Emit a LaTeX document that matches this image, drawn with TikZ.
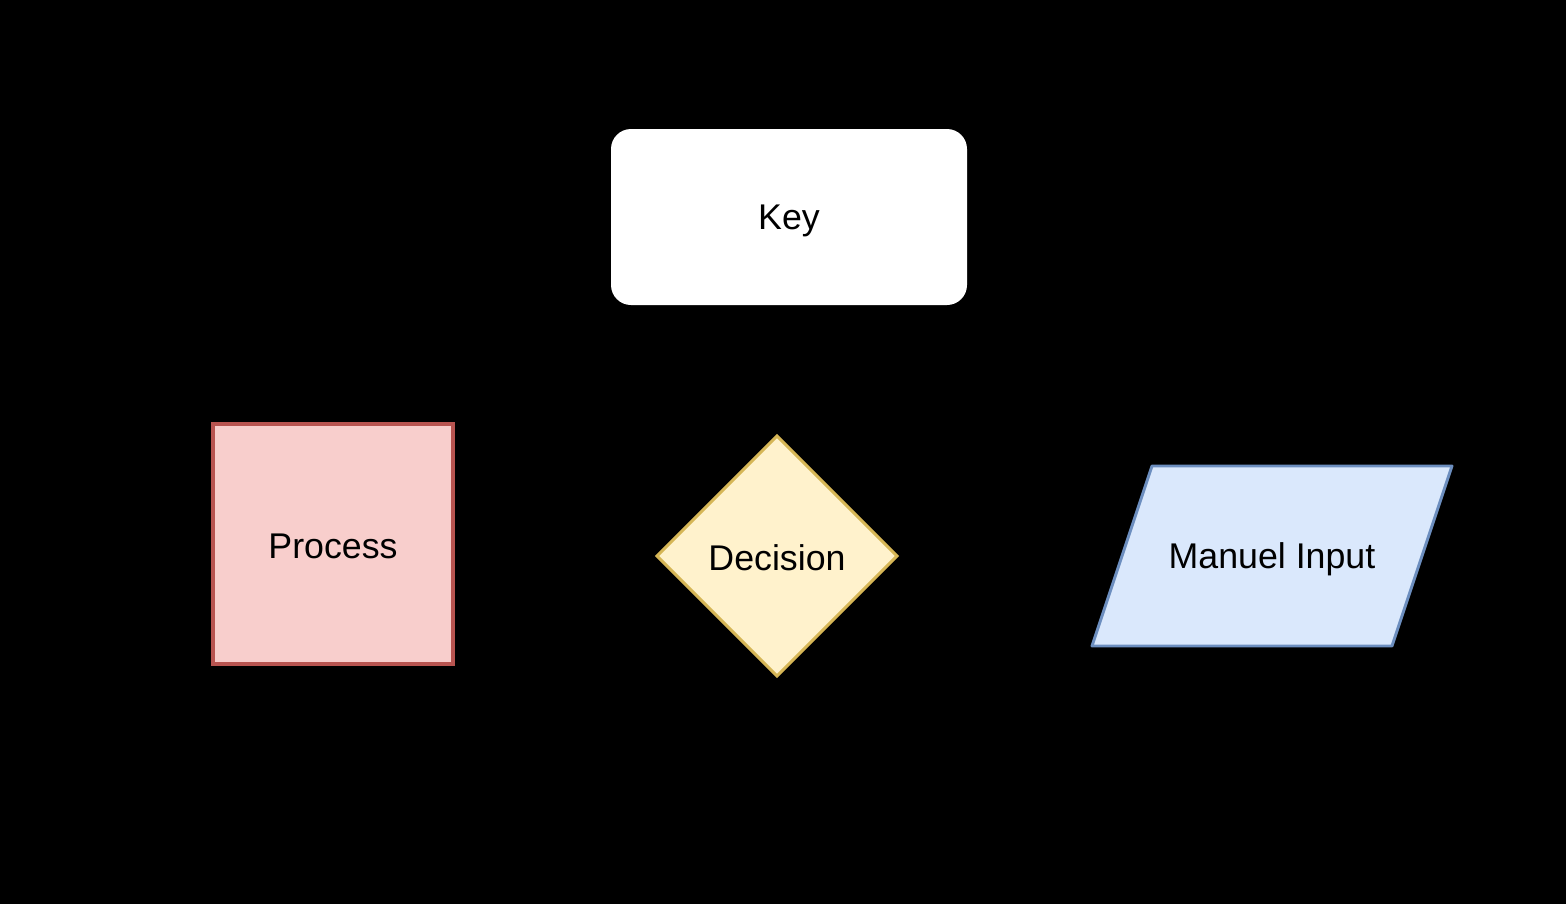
\documentclass[tikz,border=0pt]{standalone}
\usepackage{fontspec}
\setmainfont{Liberation Sans}
\usetikzlibrary{shapes.geometric}
\definecolor{procfill}{HTML}{F8CECC}
\definecolor{procline}{HTML}{B85450}
\definecolor{decfill}{HTML}{FFF2CC}
\definecolor{decline}{HTML}{D6B656}
\definecolor{inpfill}{HTML}{DAE8FC}
\definecolor{inpline}{HTML}{6C8EBF}
\tikzset{
  lbl/.style={font=\fontsize{26.8}{32}\selectfont, text=black},
  keybox/.style={fill=white, draw=none, rounded corners=15pt},
  procbox/.style={fill=procfill, draw=procline, line width=2.4pt},
  decbox/.style={fill=decfill, draw=decline, line width=2.2pt},
  inpbox/.style={fill=inpfill, draw=inpline, line width=2.2pt, line join=round},
}
\begin{document}
\begin{tikzpicture}[x=0.75pt,y=-0.75pt]
\fill[black] (0,0) rectangle (1566,904);
\useasboundingbox (0,0) rectangle (1566,904);
% Key
\fill[keybox] (611,129) rectangle (967,305);
\node[lbl] (key) at (789,221) {Key};
% Process
\draw[procbox] (213,424) rectangle (453,664);
\node[lbl] (process) at (333,546) {Process};
% Decision
\draw[decbox] (777,436) -- (897,556) -- (777,676) -- (657,556) -- cycle;
\node[lbl] (decision) at (777,558) {Decision};
% Manual input
\draw[inpbox] (1152,466) -- (1452,466) -- (1392,646) -- (1092,646) -- cycle;
\node[lbl] (input) at (1272,559) {Manuel Input};
\end{tikzpicture}
\end{document}
